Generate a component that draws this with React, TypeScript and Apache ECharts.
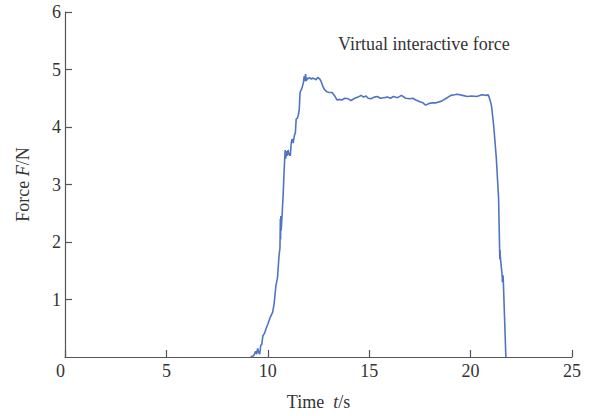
import React, { useEffect, useRef } from "react";
import * as echarts from "echarts";

const timeS: number[] = [
  9.15, 9.3, 9.4, 9.45, 9.5, 9.55, 9.6, 9.65, 9.7, 9.76, 9.85, 9.92, 10.0, 10.12, 10.24, 10.31, 10.4, 10.48,
  10.55, 10.6, 10.62, 10.63, 10.64, 10.66, 10.71, 10.76, 10.8, 10.84, 10.86, 10.88, 10.92, 10.96, 11.0, 11.05,
  11.11, 11.15, 11.19, 11.25, 11.31, 11.36, 11.4, 11.45, 11.5, 11.55, 11.59, 11.65, 11.71, 11.76, 11.79, 11.83,
  11.86, 11.9, 11.95, 12.0, 12.06, 12.15, 12.2, 12.3, 12.38, 12.46, 12.55, 12.62, 12.7, 12.78, 12.85, 12.93,
  13.05, 13.17, 13.3, 13.41, 13.55, 13.65, 13.8, 13.97, 14.1, 14.29, 14.45, 14.6, 14.72, 14.84, 14.95, 15.08,
  15.25, 15.4, 15.55, 15.71, 15.9, 16.05, 16.19, 16.4, 16.59, 16.8, 16.98, 17.15, 17.3, 17.5, 17.65, 17.78,
  17.95, 18.1, 18.3, 18.57, 18.8, 19.03, 19.2, 19.35, 19.6, 19.84, 20.05, 20.31, 20.55, 20.79, 20.87, 20.95,
  21.03, 21.14, 21.27, 21.38, 21.43, 21.44, 21.45, 21.47, 21.55, 21.57, 21.6, 21.62, 21.74,
];

const forceN: number[] = [
  0, 0.02, 0.1, 0.05, 0.15, 0.08, 0.05, 0.2, 0.22, 0.37, 0.42, 0.5, 0.57, 0.69, 0.78, 0.92, 1.24, 1.38,
  1.75, 1.9, 2.4, 2.05, 2.45, 2.2, 2.5, 2.85, 3.2, 3.5, 3.6, 3.45, 3.58, 3.5, 3.6, 3.52,
  3.5, 3.7, 3.79, 3.72, 3.85, 3.9, 4.14, 4.15, 4.2, 4.3, 4.6, 4.65, 4.71, 4.78, 4.88, 4.8,
  4.92, 4.8, 4.85, 4.84, 4.86, 4.83, 4.85, 4.84, 4.82, 4.86, 4.84, 4.8, 4.72, 4.66, 4.63, 4.61,
  4.6, 4.6, 4.54, 4.47, 4.48, 4.47, 4.5, 4.49, 4.46, 4.5, 4.52, 4.55, 4.52, 4.54, 4.5, 4.49,
  4.52, 4.53, 4.5, 4.51, 4.52, 4.5, 4.53, 4.51, 4.55, 4.5, 4.49, 4.5, 4.47, 4.44, 4.42, 4.38,
  4.41, 4.42, 4.42, 4.45, 4.5, 4.55, 4.56, 4.57, 4.55, 4.53, 4.54, 4.53, 4.56, 4.55, 4.56, 4.48,
  4.37, 4.02, 3.45, 2.76, 1.9, 1.7, 1.86, 1.72, 1.44, 1.3, 1.42, 1.25, 0,
];

const xTicks = { min: 0, max: 25, interval: 5 };
const yTicks = { min: 0, max: 6, interval: 1 };
const seriesName = "Virtual interactive force";

const FONT = "'Liberation Serif', 'DejaVu Serif', serif";
const AXIS_COLOR = "#555555";
const TEXT_COLOR = "#333333";
const LINE_COLOR = "#5074c4";

export default function App() {
  const ref = useRef<HTMLDivElement>(null);
  useEffect(() => {
    if (!ref.current) return;
    const chart = echarts.init(ref.current, undefined, { renderer: "svg" });
    const data = timeS.map((t, i) => [t, forceN[i]]);
    const axisCommon = {
      axisLine: { show: true, lineStyle: { color: AXIS_COLOR, width: 1.2 } },
      axisTick: { show: true, inside: true, length: 7, lineStyle: { color: AXIS_COLOR, width: 1.2 } },
      splitLine: { show: false },
      nameLocation: "middle" as const,
    };
    chart.setOption({
      animation: false,
      backgroundColor: "#ffffff",
      textStyle: { fontFamily: FONT },
      grid: { left: 65, right: 20, top: 12, bottom: 56, containLabel: false },
      legend: {
        show: true,
        data: [{ name: seriesName, icon: "none" }],
        left: 328,
        top: 30,
        itemWidth: 0,
        itemHeight: 0,
        textStyle: { fontFamily: FONT, fontSize: 18, color: TEXT_COLOR },
        selectedMode: false,
      },
      xAxis: {
        type: "value",
        ...xTicks,
        ...axisCommon,
        axisLabel: { fontFamily: FONT, fontSize: 18, color: TEXT_COLOR, margin: 5, alignMinLabel: "right" },
        name: "{n|Time  }{i|t}{n|/s}",
        nameGap: 36,
        nameTextStyle: {
          rich: {
            n: { fontFamily: FONT, fontSize: 18, color: TEXT_COLOR },
            i: { fontFamily: FONT, fontSize: 18, color: TEXT_COLOR, fontStyle: "italic" },
          },
        },
      },
      yAxis: {
        type: "value",
        ...yTicks,
        ...axisCommon,
        axisLabel: { fontFamily: FONT, fontSize: 18, color: TEXT_COLOR, margin: 4, showMinLabel: false },
        name: "{n|Force }{i|F}{n|/N}",
        nameGap: 33,
        nameTextStyle: {
          rich: {
            n: { fontFamily: FONT, fontSize: 18, color: TEXT_COLOR },
            i: { fontFamily: FONT, fontSize: 18, color: TEXT_COLOR, fontStyle: "italic" },
          },
        },
      },
      series: [
        {
          name: seriesName,
          type: "line",
          data,
          showSymbol: false,
          symbol: "none",
          lineStyle: { color: LINE_COLOR, width: 1.6 },
          itemStyle: { color: LINE_COLOR },
        },
      ],
    });
    return () => chart.dispose();
  }, []);
  return (
    <div
      ref={ref}
      style={{ position: "fixed", left: 0, top: 0, width: 592, height: 416 }}
    />
  );
}
